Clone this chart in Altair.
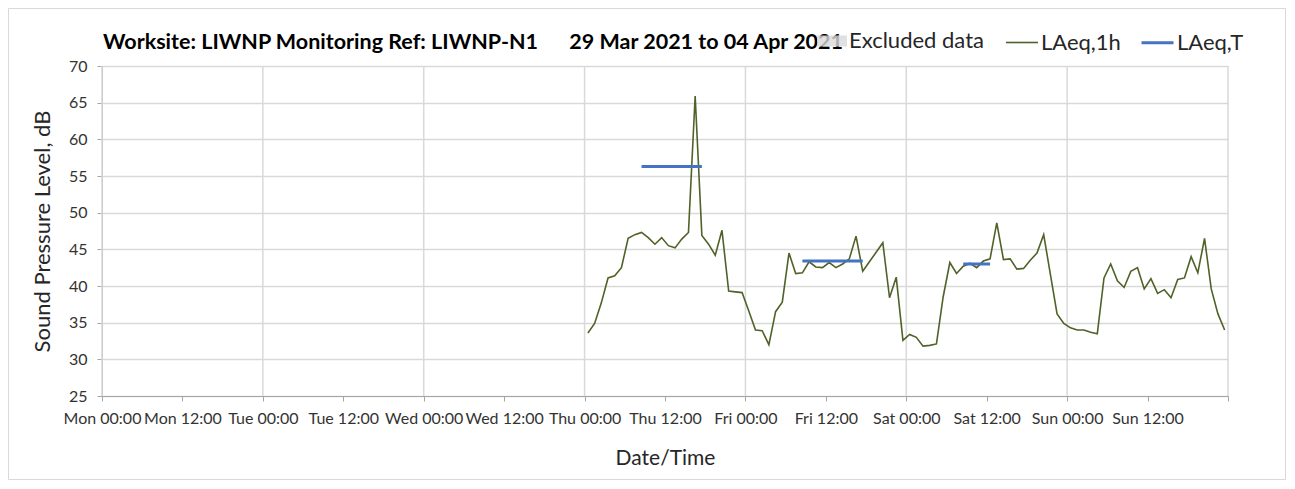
import altair as alt
import pandas as pd

# ---------------- data ----------------
title_left = "Worksite: LIWNP Monitoring Ref: LIWNP-N1"
title_right = "29 Mar 2021 to 04 Apr 2021"
y_title = "Sound Pressure Level, dB"
x_title = "Date/Time"

first_hour = "2021-04-01 00:30"
laeq_1h = [33.6, 34.9, 37.7, 41.1, 41.4, 42.5, 46.5, 47.0, 47.3, 46.6, 45.7, 46.6,
           45.5, 45.2, 46.4, 47.3, 65.9, 46.9, 45.7, 44.2, 47.6, 39.3, 39.2, 39.1,
           36.6, 34.0, 33.9, 32.0, 36.5, 37.8, 44.5, 41.7, 41.8, 43.3, 42.6, 42.5,
           43.2, 42.5, 43.0, 43.7, 46.8, 42.0, 43.3, 44.6, 45.9, 38.4, 41.2, 32.6,
           33.4, 33.0, 31.8, 31.9, 32.1, 38.5, 43.2, 41.7, 42.7, 43.1, 42.5, 43.4,
           43.7, 48.6, 43.6, 43.7, 42.3, 42.4, 43.5, 44.5, 47.0, 41.6, 36.2, 34.9,
           34.3, 34.0, 34.0, 33.7, 33.5, 41.1, 43.0, 40.7, 39.8, 42.0, 42.5, 39.6,
           41.0, 39.0, 39.5, 38.4, 40.9, 41.1, 44.0, 41.8, 46.5, 39.6, 36.2, 34.0]

period_start = ["2021-04-01T08:30:00", "2021-04-02T08:30:00", "2021-04-03T08:30:00"]
period_end = ["2021-04-01T17:30:00", "2021-04-02T17:30:00", "2021-04-03T12:30:00"]
laeq_t = [56.3, 43.4, 43.0]

day_lines = ["2021-03-29T00:00:00", "2021-03-30T00:00:00", "2021-03-31T00:00:00",
             "2021-04-01T00:00:00", "2021-04-02T00:00:00", "2021-04-03T00:00:00",
             "2021-04-04T00:00:00", "2021-04-05T00:00:00"]
tick_days = [(3, 29), (3, 30), (3, 31), (4, 1), (4, 2), (4, 3), (4, 4)]
y_ticks = [25, 30, 35, 40, 45, 50, 55, 60, 65, 70]

series_names = ["LAeq,1h", "LAeq,T"]
series_colors = ["#4f6228", "#4472c4"]
series_widths = [1.6, 3]
excluded_name = ["Excluded data"]
excluded_color = ["#d9d9d9"]

# ---------------- tables ----------------
times = pd.date_range(first_hour, periods=len(laeq_1h), freq="h").strftime("%Y-%m-%dT%H:%M:%S")
df_line = pd.DataFrame({"time": list(times), "value": laeq_1h, "series": "LAeq,1h"})
df_t = pd.DataFrame({"time": period_start, "end": period_end, "value": laeq_t, "series": "LAeq,T"})
df_grid = pd.DataFrame({"time": day_lines})
df_excl = pd.DataFrame({"time": [None], "end": [None], "series": excluded_name})
df_title = pd.DataFrame({"label": [title_left + "\u00a0" * 6 + title_right]})
df_one = pd.DataFrame({"a": [0]})

W, H = 1126, 330
PAD = {"left": 94, "top": 58, "right": 58, "bottom": 84}
FONT = "Lato"

tick_values = [alt.DateTime(year=2021, month=m, date=d, hours=h) for (m, d) in tick_days for h in (0, 12)]
tick_values.append(alt.DateTime(year=2021, month=4, date=5))

x_scale = alt.Scale(domain=[alt.DateTime(year=2021, month=3, date=29),
                            alt.DateTime(year=2021, month=4, date=5)])
y_scale = alt.Scale(domain=[25, 70], nice=False, zero=False)

x_axis = alt.Axis(values=tick_values, tickCount=30, format="%a %H:%M", grid=False,
                  labelExpr="datum.value >= datetime(2021, 3, 5) ? '' : datum.label",
                  tickSize=5, labelPadding=9, titlePadding=21, labelFontSize=16,
                  titleFontSize=21, titleFontWeight="normal", labelOverlap=False,
                  labelFlush=False, labelBound=False)
y_axis = alt.Axis(values=y_ticks, tickCount=20, grid=True, tickSize=5, labelPadding=10,
                  titlePadding=14, labelFontSize=16, titleFontSize=22,
                  titleFontWeight="normal", labelOverlap=False)

X = lambda: alt.X("time:T", scale=x_scale, title=x_title)

series_legend = alt.Legend(title=None, orient="none", direction="horizontal",
                           legendX=903, legendY=-41, symbolType="stroke",
                           symbolSize=1024, labelFontSize=22, labelOffset=2,
                           columnPadding=14, padding=0, labelLimit=300)
stroke_enc = alt.Stroke("series:N", scale=alt.Scale(domain=series_names, range=series_colors),
                        legend=series_legend)
width_enc = alt.StrokeWidth("series:N", scale=alt.Scale(type="ordinal", domain=series_names,
                                                         range=series_widths),
                            legend=series_legend)
fill_enc = alt.Fill("series:N", scale=alt.Scale(domain=excluded_name, range=excluded_color),
                    legend=alt.Legend(title=None, orient="none", direction="horizontal",
                                      legendX=715, legendY=-40,
                                      symbolType="M-1,-0.37L1,-0.37L1,0.37L-1,0.37Z",
                                      symbolSize=900, symbolOpacity=0.8, symbolStrokeWidth=0,
                                      labelFontSize=22, labelOffset=2, padding=0,
                                      labelLimit=300))

vgrid = alt.Chart(df_grid).mark_rule(color="#d9d9d9", strokeWidth=1.5).encode(x=X())

excl = alt.Chart(df_excl).mark_rect().encode(x=X(), x2="end:T", fill=fill_enc)

line = alt.Chart(df_line).mark_line().encode(
    x=alt.X("time:T", scale=x_scale, title=x_title, axis=x_axis),
    y=alt.Y("value:Q", scale=y_scale, title=y_title, axis=y_axis),
    stroke=stroke_enc, strokeWidth=width_enc,
)

rules = alt.Chart(df_t).mark_rule(strokeCap="butt").encode(
    x=alt.X("time:T", scale=x_scale, title=x_title, axis=x_axis), x2="end:T",
    y=alt.Y("value:Q", scale=y_scale, title=y_title, axis=y_axis),
    stroke=stroke_enc, strokeWidth=width_enc,
)

title = alt.Chart(df_title).mark_text(align="left", baseline="alphabetic", fontSize=21.5,
                                      fontWeight="bold", font=FONT, color="#000000").encode(
    x=alt.value(1), y=alt.value(-17), text="label:N")

frame = alt.Chart(df_one).mark_rect(fill="transparent", stroke="#d9d9d9", strokeWidth=1).encode(
    x=alt.value(-93.5), x2=alt.value(W + 57.5), y=alt.value(-57.5), y2=alt.value(H + 83.5))

chart = alt.layer(vgrid, excl, line, rules, title, frame).properties(
    width=W, height=H, autosize=alt.AutoSizeParams(type="none"), padding=PAD,
    background="white",
).configure_view(stroke=None).configure_axis(
    labelFont=FONT, titleFont=FONT, labelColor="#333333", titleColor="#262626",
    domainColor="#a6a6a6", tickColor="#a6a6a6", gridColor="#d9d9d9", gridWidth=1.5,
).configure_legend(labelFont=FONT, labelColor="#262626")

chart.save("out.html", embed_options={"renderer": "svg", "actions": False})
